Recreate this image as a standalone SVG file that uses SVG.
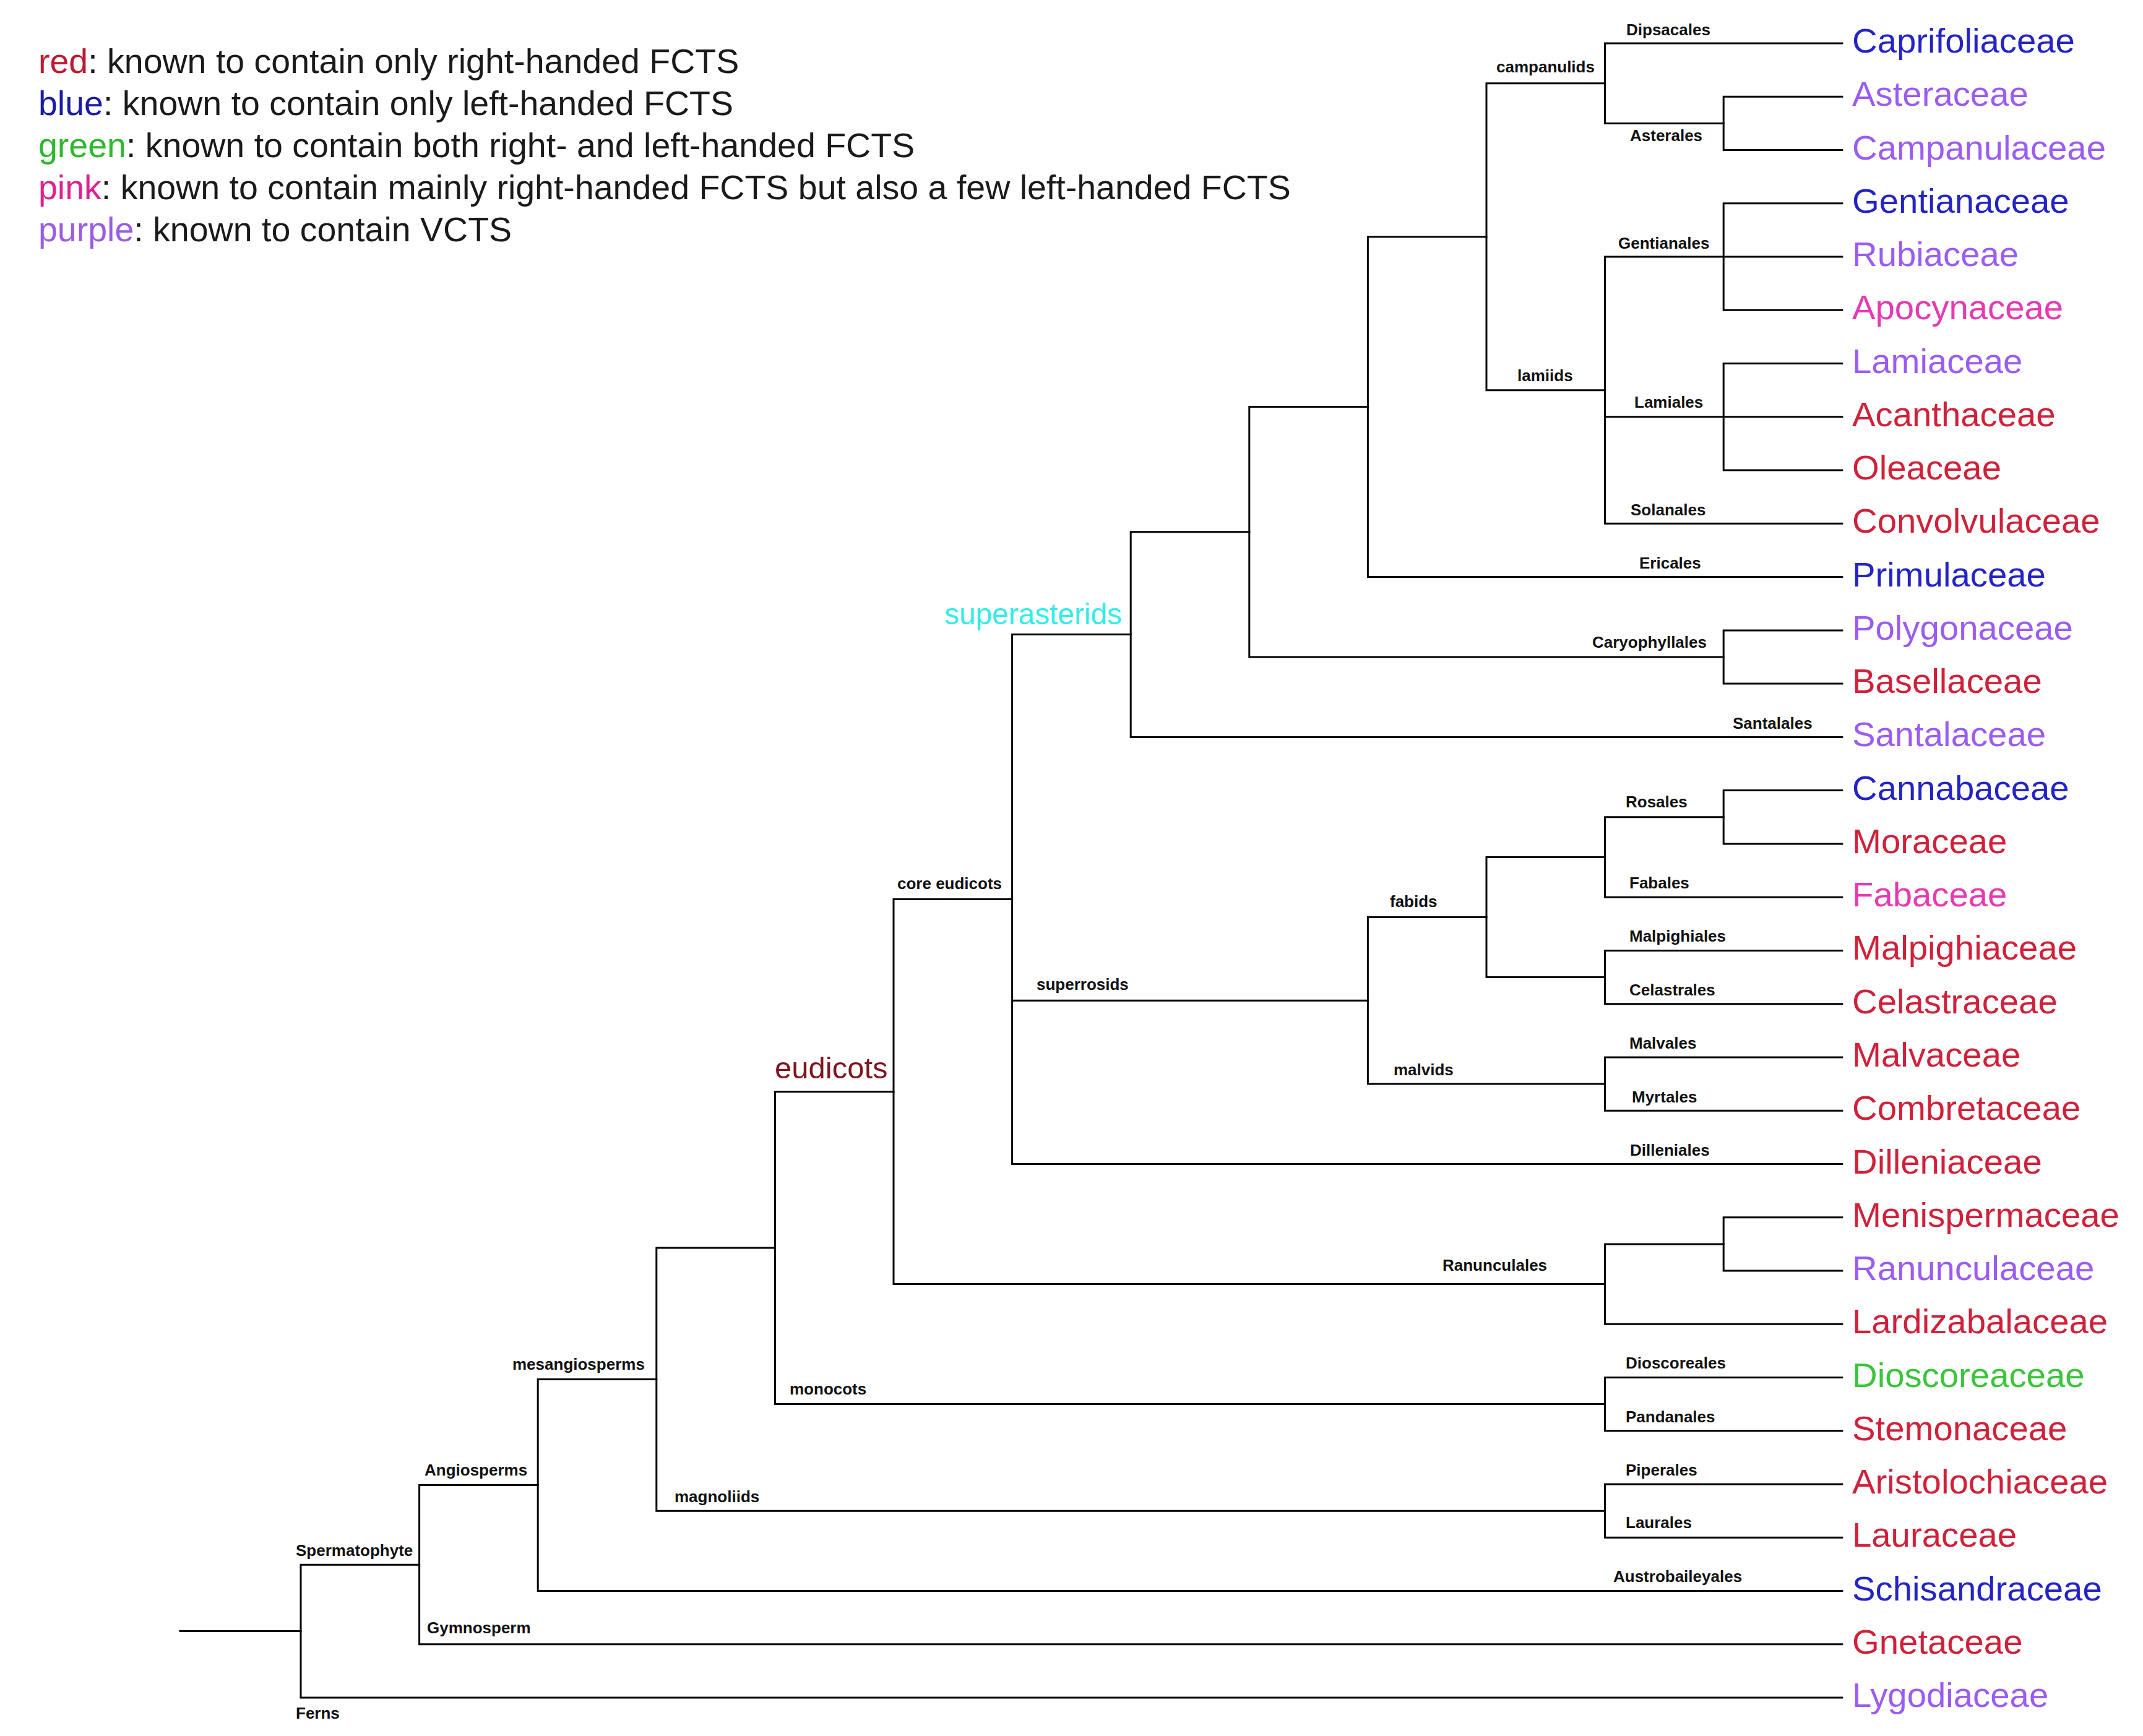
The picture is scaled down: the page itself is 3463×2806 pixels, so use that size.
<svg xmlns="http://www.w3.org/2000/svg" width="3463" height="2806" viewBox="0 0 3463 2806">
<style>
.bg{fill:#ffffff}
.ln{stroke:#000;stroke-width:3;fill:none;stroke-linecap:square}
.lab{font-family:"Liberation Sans",Arial,sans-serif;font-size:26px;font-weight:bold;fill:#111}
.leaf{font-family:"Liberation Sans",Arial,sans-serif;font-size:56.3px}
.leg{font-family:"Liberation Sans",Arial,sans-serif;font-size:55.5px;fill:#1a1a1a}
.big{font-family:"Liberation Sans",Arial,sans-serif}
.r{fill:#d0213a}.b{fill:#2424c4}.p{fill:#9b5cf2}.k{fill:#e53bb0}.g{fill:#3cc43c}
</style>
<rect class="bg" x="0" y="0" width="3463" height="2806"/>
<g id="legend">
<text class="leg" x="62" y="118"><tspan fill="#c01830">red</tspan>: known to contain only right-handed FCTS</text>
<text class="leg" x="62" y="186"><tspan fill="#1a1aa8">blue</tspan>: known to contain only left-handed FCTS</text>
<text class="leg" x="62" y="254"><tspan fill="#2eb82e">green</tspan>: known to contain both right- and left-handed FCTS</text>
<text class="leg" x="62" y="322"><tspan fill="#e0208c">pink</tspan>: known to contain mainly right-handed FCTS but also a few left-handed FCTS</text>
<text class="leg" x="62" y="390"><tspan fill="#9a5ce6">purple</tspan>: known to contain VCTS</text>
</g>
<g id="connectors" class="ln">
<path d="M291 2636.6H486"/>
<path d="M486 2529.2V2744.1M486 2529.2H677.6M486 2744.1H2976.8"/>
<path d="M677.6 2400.6V2657.8M677.6 2400.6H869.2M677.6 2657.8H2976.8"/>
<path d="M869.2 2229.6V2571.5M869.2 2229.6H1060.8M869.2 2571.5H2976.8"/>
<path d="M1060.8 2017V2442.2M1060.8 2017H1252.4M1060.8 2442.2H2593.6"/>
<path d="M2593.6 2399V2485.3M2593.6 2399H2976.8M2593.6 2485.3H2976.8"/>
<path d="M1252.4 1764.5V2269.6M1252.4 1764.5H1444M1252.4 2269.6H2593.6"/>
<path d="M2593.6 2226.5V2312.8M2593.6 2226.5H2976.8M2593.6 2312.8H2976.8"/>
<path d="M1444 1453.5V2075.6M1444 1453.5H1635.6M1444 2075.6H2593.6"/>
<path d="M2593.6 2010.9V2140.2M2593.6 2010.9H2785.2M2593.6 2140.2H2976.8"/>
<path d="M2785.2 1967.7V2054M2785.2 1967.7H2976.8M2785.2 2054H2976.8"/>
<path d="M1635.6 1025.6V1881.5M1635.6 1025.6H1827.2M1635.6 1617.3H2210.4M1635.6 1881.5H2976.8"/>
<path d="M2210.4 1482.5V1752.1M2210.4 1482.5H2402M2210.4 1752.1H2593.6"/>
<path d="M2593.6 1708.9V1795.2M2593.6 1708.9H2976.8M2593.6 1795.2H2976.8"/>
<path d="M2402 1385.5V1579.6M2402 1385.5H2593.6M2402 1579.6H2593.6"/>
<path d="M2593.6 1536.4V1622.7M2593.6 1536.4H2976.8M2593.6 1622.7H2976.8"/>
<path d="M2593.6 1320.8V1450.2M2593.6 1320.8H2785.2M2593.6 1450.2H2976.8"/>
<path d="M2785.2 1277.6V1363.9M2785.2 1277.6H2976.8M2785.2 1363.9H2976.8"/>
<path d="M1827.2 859.8V1191.4M1827.2 859.8H2018.8M1827.2 1191.4H2976.8"/>
<path d="M2018.8 657.6V1062M2018.8 657.6H2210.4M2018.8 1062H2785.2"/>
<path d="M2785.2 1018.9V1105.1M2785.2 1018.9H2976.8M2785.2 1105.1H2976.8"/>
<path d="M2210.4 382.7V932.6M2210.4 382.7H2402M2210.4 932.6H2976.8"/>
<path d="M2402 134.7V630.7M2402 134.7H2593.6M2402 630.7H2593.6"/>
<path d="M2593.6 70V199.4M2593.6 70H2976.8M2593.6 199.4H2785.2"/>
<path d="M2785.2 156.3V242.5M2785.2 156.3H2976.8M2785.2 242.5H2976.8"/>
<path d="M2593.6 415V846.3M2593.6 415H2976.8M2593.6 673.8H2976.8M2593.6 846.3H2976.8"/>
<path d="M2785.2 328.8V501.3M2785.2 328.8H2976.8M2785.2 501.3H2976.8"/>
<path d="M2785.2 587.6V760.1M2785.2 587.6H2976.8M2785.2 760.1H2976.8"/>
</g>
<g id="clade-labels">
<g id="n-dipsacales"><text class="lab" x="2628" y="57">Dipsacales</text></g>
<g id="n-campanulids"><text class="lab" x="2418" y="117">campanulids</text></g>
<g id="n-asterales"><text class="lab" x="2634" y="228">Asterales</text></g>
<g id="n-gentianales"><text class="lab" x="2615" y="402">Gentianales</text></g>
<g id="n-lamiids"><text class="lab" x="2452" y="616">lamiids</text></g>
<g id="n-lamiales"><text class="lab" x="2641" y="659">Lamiales</text></g>
<g id="n-solanales"><text class="lab" x="2635" y="833">Solanales</text></g>
<g id="n-ericales"><text class="lab" x="2649" y="919">Ericales</text></g>
<g id="n-caryophyllales"><text class="lab" x="2573" y="1047">Caryophyllales</text></g>
<g id="n-santalales"><text class="lab" x="2800" y="1178">Santalales</text></g>
<g id="n-superasterids"><text class="big" x="1526" y="1009" font-size="47.8" fill="#33ece6">superasterids</text></g>
<g id="n-rosales"><text class="lab" x="2627" y="1305">Rosales</text></g>
<g id="n-fabales"><text class="lab" x="2633" y="1436">Fabales</text></g>
<g id="n-fabids"><text class="lab" x="2246" y="1466">fabids</text></g>
<g id="n-malpighiales"><text class="lab" x="2633" y="1522">Malpighiales</text></g>
<g id="n-celastrales"><text class="lab" x="2633" y="1609">Celastrales</text></g>
<g id="n-superrosids"><text class="lab" x="1675" y="1600">superrosids</text></g>
<g id="n-malvales"><text class="lab" x="2633" y="1695">Malvales</text></g>
<g id="n-malvids"><text class="lab" x="2252" y="1738">malvids</text></g>
<g id="n-myrtales"><text class="lab" x="2637" y="1782">Myrtales</text></g>
<g id="n-core-eudicots"><text class="lab" x="1450" y="1437">core eudicots</text></g>
<g id="n-dilleniales"><text class="lab" x="2634" y="1868">Dilleniales</text></g>
<g id="n-eudicots"><text class="big" x="1252" y="1743" font-size="49" fill="#7e1620">eudicots</text></g>
<g id="n-ranunculales"><text class="lab" x="2331" y="2054">Ranunculales</text></g>
<g id="n-dioscoreales"><text class="lab" x="2627" y="2212">Dioscoreales</text></g>
<g id="n-pandanales"><text class="lab" x="2627" y="2299">Pandanales</text></g>
<g id="n-monocots"><text class="lab" x="1276" y="2254">monocots</text></g>
<g id="n-mesangiosperms"><text class="lab" x="828" y="2214">mesangiosperms</text></g>
<g id="n-piperales"><text class="lab" x="2627" y="2385">Piperales</text></g>
<g id="n-laurales"><text class="lab" x="2627" y="2470">Laurales</text></g>
<g id="n-magnoliids"><text class="lab" x="1090" y="2428">magnoliids</text></g>
<g id="n-angiosperms"><text class="lab" x="686" y="2385">Angiosperms</text></g>
<g id="n-austrobaileyales"><text class="lab" x="2607" y="2557">Austrobaileyales</text></g>
<g id="n-spermatophyte"><text class="lab" x="478" y="2515">Spermatophyte</text></g>
<g id="n-gymnosperm"><text class="lab" x="690" y="2640">Gymnosperm</text></g>
<g id="n-ferns"><text class="lab" x="478" y="2778">Ferns</text></g>
</g>
<g id="leaves">
<g id="leaf-caprifoliaceae"><text class="leaf b" x="2993" y="85">Caprifoliaceae</text></g>
<g id="leaf-asteraceae"><text class="leaf p" x="2993" y="171.3">Asteraceae</text></g>
<g id="leaf-campanulaceae"><text class="leaf p" x="2993" y="257.5">Campanulaceae</text></g>
<g id="leaf-gentianaceae"><text class="leaf b" x="2993" y="343.8">Gentianaceae</text></g>
<g id="leaf-rubiaceae"><text class="leaf p" x="2993" y="430">Rubiaceae</text></g>
<g id="leaf-apocynaceae"><text class="leaf k" x="2993" y="516.3">Apocynaceae</text></g>
<g id="leaf-lamiaceae"><text class="leaf p" x="2993" y="602.6">Lamiaceae</text></g>
<g id="leaf-acanthaceae"><text class="leaf r" x="2993" y="688.8">Acanthaceae</text></g>
<g id="leaf-oleaceae"><text class="leaf r" x="2993" y="775.1">Oleaceae</text></g>
<g id="leaf-convolvulaceae"><text class="leaf r" x="2993" y="861.3">Convolvulaceae</text></g>
<g id="leaf-primulaceae"><text class="leaf b" x="2993" y="947.6">Primulaceae</text></g>
<g id="leaf-polygonaceae"><text class="leaf p" x="2993" y="1033.9">Polygonaceae</text></g>
<g id="leaf-basellaceae"><text class="leaf r" x="2993" y="1120.1">Basellaceae</text></g>
<g id="leaf-santalaceae"><text class="leaf p" x="2993" y="1206.4">Santalaceae</text></g>
<g id="leaf-cannabaceae"><text class="leaf b" x="2993" y="1292.6">Cannabaceae</text></g>
<g id="leaf-moraceae"><text class="leaf r" x="2993" y="1378.9">Moraceae</text></g>
<g id="leaf-fabaceae"><text class="leaf k" x="2993" y="1465.2">Fabaceae</text></g>
<g id="leaf-malpighiaceae"><text class="leaf r" x="2993" y="1551.4">Malpighiaceae</text></g>
<g id="leaf-celastraceae"><text class="leaf r" x="2993" y="1637.7">Celastraceae</text></g>
<g id="leaf-malvaceae"><text class="leaf r" x="2993" y="1723.9">Malvaceae</text></g>
<g id="leaf-combretaceae"><text class="leaf r" x="2993" y="1810.2">Combretaceae</text></g>
<g id="leaf-dilleniaceae"><text class="leaf r" x="2993" y="1896.5">Dilleniaceae</text></g>
<g id="leaf-menispermaceae"><text class="leaf r" x="2993" y="1982.7">Menispermaceae</text></g>
<g id="leaf-ranunculaceae"><text class="leaf p" x="2993" y="2069">Ranunculaceae</text></g>
<g id="leaf-lardizabalaceae"><text class="leaf r" x="2993" y="2155.2">Lardizabalaceae</text></g>
<g id="leaf-dioscoreaceae"><text class="leaf g" x="2993" y="2241.5">Dioscoreaceae</text></g>
<g id="leaf-stemonaceae"><text class="leaf r" x="2993" y="2327.8">Stemonaceae</text></g>
<g id="leaf-aristolochiaceae"><text class="leaf r" x="2993" y="2414">Aristolochiaceae</text></g>
<g id="leaf-lauraceae"><text class="leaf r" x="2993" y="2500.3">Lauraceae</text></g>
<g id="leaf-schisandraceae"><text class="leaf b" x="2993" y="2586.5">Schisandraceae</text></g>
<g id="leaf-gnetaceae"><text class="leaf r" x="2993" y="2672.8">Gnetaceae</text></g>
<g id="leaf-lygodiaceae"><text class="leaf p" x="2993" y="2759.1">Lygodiaceae</text></g>
</g>
</svg>
